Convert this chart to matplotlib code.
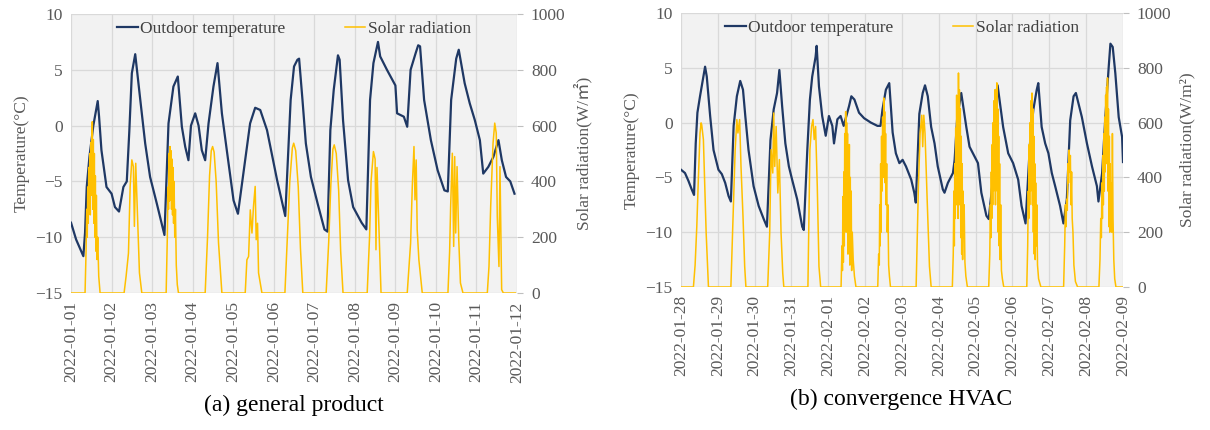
import matplotlib
matplotlib.use("Agg")
import matplotlib.pyplot as plt

plt.rcParams["font.family"] = ["Liberation Serif", "Noto Sans CJK SC", "DejaVu Sans"]

# -----------------------------------------------------------------------------
# data (hours since the first tick)
# -----------------------------------------------------------------------------

# (a) general product
a_temp_hours = [
    0, 3, 7.3, 8.3, 9.3, 10.9, 13.2, 15.8, 16.6, 18,
    21, 24, 26, 28.4, 31, 33, 34.5, 36, 38, 41,
    43.9, 46.8, 50.8, 55.3, 57.7, 60.6, 63.2, 65.6, 67.6, 69.5,
    71, 73.5, 75.5, 77.4, 79.4, 81.4, 84.3, 86.7, 89.3, 92.2,
    96.2, 98.8, 102, 106, 109, 112, 116, 122, 126.8, 130,
    132, 134, 135, 137, 139, 142, 146, 150, 151.8, 153.5,
    155.5, 158, 159, 161, 164, 167, 172, 174.8, 177, 179,
    181.7, 183, 187, 192, 193, 197, 199, 201, 204, 205.5,
    206.6, 209, 213, 217, 221, 223, 225, 228, 229.5, 233,
    236, 239, 242, 244, 247, 250, 253, 255, 257.5, 260, 262.5,
]
a_temp = [
    -8.7, -10.2, -11.7, -9.6, -5.5, -2.8, 0.0, 2.2, 0.8, -2.2,
    -5.5, -6.1, -7.3, -7.7, -5.5, -5.0, -0.5, 4.7, 6.4, 2.3,
    -1.6, -4.6, -7.0, -9.8, 0.2, 3.5, 4.4, -0.1, -1.9, -3.1,
    0.0, 1.1, 0.0, -2.2, -3.1, 0.2, 3.5, 5.6, 1.1, -2.2,
    -6.7, -7.9, -4.3, 0.2, 1.6, 1.4, -0.4, -4.9, -8.1, 2.3,
    5.3, 5.9, 6.0, 2.3, -1.6, -4.6, -7.0, -9.3, -9.5, -0.4,
    3.2, 6.3, 5.9, 0.5, -4.9, -7.3, -8.7, -9.3, 2.3, 5.6,
    7.5, 6.2, 5.0, 3.6, 1.1, 0.8, -0.1, 5.0, 6.5, 7.2,
    7.1, 2.3, -1.3, -4.0, -5.8, -5.9, 2.3, 6.0, 6.8, 3.8,
    2.0, 0.5, -1.3, -4.3, -3.7, -2.8, -1.3, -3.1, -4.6, -5.0, -6.1,
]
a_solar_hours = [
    0,
    8.3, 8.9, 9.3, 9.6, 9.9, 10.2, 10.5, 10.8, 11.1, 11.4, 11.7, 12, 12.3,
    12.6, 12.9, 13.2, 13.5, 13.8, 14.1, 14.4, 14.7, 15, 15.4, 15.8, 16.4, 17.2,
    31.4, 32.6, 34, 35, 36, 36.9, 37.5, 38.3, 39.3, 40.5, 41.9,
    56.3, 57, 57.4, 57.7, 58, 58.3, 58.6, 58.9, 59.2, 59.5, 59.8, 60.1, 60.4,
    60.7, 61, 61.4, 61.8, 62.3, 62.9, 63.6,
    79.4, 80.8, 82, 83, 83.8, 84.7, 85.9, 87.3, 89.3,
    103.1, 104.1, 105.1, 106.1, 107.1, 108, 109, 109.6, 110.4, 111, 113,
    126.6, 128, 129.5, 131, 131.8, 133, 134.5, 135.8, 137.2,
    151, 152.5, 153.8, 155, 155.8, 157, 158.4, 159.6, 161,
    175.3, 176.7, 177.6, 179, 180, 180.5, 181.1, 181.9, 183.5,
    199, 200, 201, 202, 203, 203.6, 204.3, 204.9, 205.9, 207.9,
    223.1, 224.1, 224.7, 225.7, 226.5, 227.1, 227.7, 228.5, 229.5, 230.5, 232,
    246.4, 247.4, 248.4, 249.8, 250.8, 251.7, 252.3, 253.3, 253.9, 254.9, 255.9,
    263,
]
a_solar = [
    0,
    0, 150, 300, 200, 380, 250, 450, 300, 500, 280, 540, 350, 480,
    614, 300, 550, 250, 500, 200, 420, 150, 350, 120, 200, 60, 0,
    0, 60, 143, 382, 477, 453, 239, 465, 286, 72, 0,
    0, 200, 380, 300, 500, 330, 525, 350, 510, 300, 480, 280, 450,
    250, 400, 200, 300, 100, 30, 0,
    0, 200, 420, 510, 525, 505, 400, 180, 0,
    0, 119, 131, 298, 215, 310, 382, 191, 250, 72, 0,
    0, 190, 400, 520, 537, 510, 380, 160, 0,
    0, 180, 390, 515, 531, 500, 370, 150, 0,
    0, 200, 400, 507, 480, 155, 450, 300, 0,
    0, 90, 179, 382, 525, 334, 477, 227, 119, 0,
    0, 150, 310, 501, 167, 489, 215, 453, 191, 36, 0,
    0, 95, 310, 537, 609, 573, 274, 95, 453, 12, 0,
    0,
]
a_ticks = ["2022-01-%02d" % d for d in range(1, 13)]

# (b) convergence HVAC
b_temp_hours = [
    0, 2.6, 4.8, 7, 8.5, 9.6, 10.7, 12.4, 14.6, 15.7,
    16.8, 19, 21.2, 24.4, 26.6, 28.8, 31, 32.5, 34.3, 36.4,
    38.6, 40.4, 41.9, 44, 47.3, 50.6, 53.9, 56, 58.3, 60.4,
    62.6, 64.1, 65.9, 68, 70.3, 72.4, 75.7, 79, 80, 82.3,
    84, 85.5, 87.7, 88.4, 89.9, 92, 94.3, 96.4, 98.6, 99.7,
    101.9, 104, 106, 109.5, 111, 113, 116, 119.3, 123.7, 128,
    130, 131.3, 133.5, 135.7, 137.9, 140, 142.3, 144.4, 146.6, 150,
    152, 153, 155.3, 157.5, 159, 160.8, 163, 165.2, 167.3, 170.6,
    171.7, 173.9, 177.2, 178.3, 180, 182.6, 185.9, 188, 190.2, 193.5,
    195.7, 199, 200.5, 203, 204.7, 206.3, 209.9, 213.2, 216.4, 219.7,
    221.9, 224.5, 227.4, 229.6, 231.8, 232.8, 235, 237.3, 239.4, 241.6,
    243.8, 247, 249.2, 251.4, 253.6, 255.8, 257.3, 261.2, 264.5, 267.8,
    271, 272, 274.4, 276.5, 278.7, 279.8, 281.3, 283, 285.2, 287.4, 288,
]
b_temp = [
    -4.3, -4.6, -5.3, -6.1, -6.6, -1.9, 0.9, 2.4, 4.2, 5.1,
    4.2, 0.6, -2.5, -4.3, -4.7, -5.5, -6.7, -7.2, -0.3, 2.4,
    3.8, 3.0, 0.6, -2.5, -5.8, -7.6, -8.8, -9.5, -1.6, 1.2,
    2.7, 4.8, 1.5, -1.9, -4.0, -5.2, -7.0, -9.5, -9.8, -2.5,
    2.1, 4.2, 6.0, 7.0, 3.3, 0.6, -1.2, 0.6, -0.3, -1.9,
    0.3, 0.6, -0.3, 1.5, 2.4, 2.1, 0.9, 0.4, 0.0, -0.3,
    -0.3, 1.2, 3.0, 3.6, -0.9, -2.8, -3.7, -3.4, -4.0, -5.2,
    -6.4, -7.3, 0.8, 2.7, 3.4, 2.4, -0.4, -1.9, -4.0, -6.1,
    -6.4, -5.5, -4.6, -3.4, 0.5, 2.7, -0.4, -2.2, -2.8, -3.7,
    -6.4, -8.5, -8.8, -5.5, 2.1, 3.4, -0.4, -2.8, -3.7, -5.2,
    -7.6, -9.2, -1.9, 1.2, 3.0, 3.6, -0.4, -1.9, -2.8, -4.6,
    -5.8, -7.6, -9.2, -7.0, 0.2, 2.4, 2.7, 0.5, -1.9, -4.0,
    -5.8, -7.2, -4.6, 0.5, 5.1, 7.2, 6.9, 4.5, 0.5, -1.3, -3.6,
]
b_solar_hours = [
    0,
    8.1, 9.2, 10.3, 11.3, 12.4, 13.1, 13.5, 14.6, 16.4, 17.9,
    32.5, 34.3, 35.3, 36.4, 37.1, 38.2, 39.1, 40.4, 41.5, 42.3,
    56.5, 57.8, 58.7, 59.8, 60.4, 61.1, 62, 63.1, 64.1, 65.2, 66.3, 67,
    82.7, 84, 85.1, 86, 86.8, 87.7, 88.8, 89.9, 91,
    104.3, 104.9, 105.2, 105.5, 105.8, 106.1, 106.4, 106.7, 107, 107.3,
    107.6, 107.9, 108.2, 108.5, 108.8, 109.1, 109.4, 109.7, 110, 110.3,
    110.6, 110.9, 111.2, 111.6, 112.2, 113, 114,
    128.2, 128.8, 129.2, 129.5, 129.8, 130.1, 130.4, 130.7, 131, 131.4,
    131.8, 132.1, 132.4, 132.7, 133, 133.3, 133.6, 134, 134.4, 134.8,
    135.3, 135.8, 136.5,
    153.2, 154.7, 155.8, 156.9, 157.5, 158.2, 159, 160.4, 161.9, 163,
    176.8, 177.4, 177.8, 178.1, 178.4, 178.7, 179, 179.3, 179.6, 179.9,
    180.2, 180.5, 180.8, 181.1, 181.4, 181.7, 182, 182.3, 182.6, 182.9,
    183.2, 183.5, 183.8, 184.1, 184.5, 185, 185.6, 186.6,
    200.5, 201.2, 201.6, 201.9, 202.2, 202.5, 202.8, 203.1, 203.4, 203.7,
    204, 204.3, 204.6, 204.9, 205.2, 205.5, 205.8, 206.1, 206.4, 206.7,
    207, 207.3, 207.6, 207.9, 208.3, 208.8, 209.4, 210.3,
    225.3, 225.9, 226.3, 226.6, 226.9, 227.2, 227.5, 227.8, 228.1, 228.4,
    228.7, 229, 229.3, 229.6, 229.9, 230.2, 230.5, 230.8, 231.1, 231.4,
    231.8, 232.3, 233, 234.5,
    249.3, 250, 250.5, 250.9, 251.3, 251.7, 252.1, 252.5, 252.9, 253.3,
    253.7, 254.1, 254.5, 254.9, 255.4, 256, 257, 258.4,
    272.3, 273, 273.5, 273.9, 274.3, 274.6, 274.9, 275.2, 275.5, 275.8,
    276.1, 276.4, 276.7, 277, 277.3, 277.6, 277.9, 278.2, 278.5, 278.8,
    279.1, 279.4, 279.7, 280, 280.3, 280.7, 281.1, 281.5, 282, 282.6, 283.4,
    288,
]
b_solar = [
    0,
    0, 80, 221, 392, 562, 599, 592, 538, 197, 0,
    0, 319, 501, 611, 562, 611, 440, 258, 75, 0,
    0, 197, 501, 416, 635, 440, 586, 343, 465, 197, 51, 0,
    0, 501, 586, 611, 538, 586, 367, 75, 0,
    0, 150, 60, 330, 90, 420, 150, 560, 250, 640,
    200, 600, 350, 560, 120, 480, 300, 520, 80, 400,
    150, 350, 60, 200, 100, 40, 0,
    0, 120, 80, 300, 150, 450, 200, 550, 350, 620,
    400, 690, 450, 640, 380, 560, 300, 450, 200, 300,
    80, 40, 0,
    0, 367, 561, 627, 512, 627, 561, 318, 75, 0,
    0, 120, 350, 150, 450, 250, 580, 300, 700, 400,
    650, 250, 781, 450, 720, 300, 650, 180, 550, 120,
    450, 100, 350, 180, 300, 90, 40, 0,
    0, 120, 300, 180, 420, 250, 520, 300, 600, 350,
    680, 400, 720, 300, 700, 450, 745, 350, 650, 200,
    550, 150, 450, 100, 300, 60, 30, 0,
    0, 150, 350, 250, 520, 300, 600, 350, 680, 400,
    708, 300, 650, 200, 550, 120, 450, 100, 380, 150,
    300, 80, 30, 0,
    0, 150, 300, 220, 320, 280, 450, 380, 500, 420,
    480, 300, 420, 250, 200, 80, 20, 0,
    0, 100, 250, 180, 380, 250, 480, 300, 560, 350,
    620, 420, 700, 450, 730, 500, 763, 350, 650, 220,
    550, 200, 450, 210, 380, 200, 560, 250, 100, 30, 0,
    0,
]
b_ticks = ["2022-01-%02d" % d for d in range(28, 32)] + \
          ["2022-02-%02d" % d for d in range(1, 10)]

TEMP_COLOR = "#1F3864"
SOLAR_COLOR = "#FFC000"
BG = "#F2F2F2"
GRID = "#D9D9D9"
TXT = "#595959"


def draw_panel(fig, rect, t_h, t_v, s_h, s_v, ticks, solar_label, title, title_xy):
    ax = fig.add_axes(rect)
    ax.set_facecolor(BG)
    ax.plot(t_h, t_v, color=TEMP_COLOR, lw=1.6, label="Outdoor temperature")
    ax.set_ylim(-15, 10)
    ax.set_yticks(range(-15, 11, 5))
    ax.set_xlim(0, 24 * (len(ticks) - 1))
    ax.set_xticks([24 * i for i in range(len(ticks))])
    ax.set_xticklabels(ticks, rotation=90)
    ax.grid(True, color=GRID, lw=0.9)
    ax.set_axisbelow(True)
    ax.tick_params(axis="both", length=0, labelsize=12.5, colors=TXT, pad=6)
    ax.set_ylabel("Temperature(°C)", fontsize=12.5, color=TXT, labelpad=4)

    ax2 = ax.twinx()
    ax2.plot(s_h, s_v, color=SOLAR_COLOR, lw=1.1, label="Solar radiation")
    ax2.set_ylim(0, 1000)
    ax2.set_yticks(range(0, 1001, 200))
    ax2.tick_params(axis="y", length=4, labelsize=12.5, colors=TXT, pad=6)
    ax2.tick_params(axis="y", color="#BFBFBF")
    ax2.set_ylabel(solar_label, fontsize=12.5, color=TXT, labelpad=6)

    for a in (ax, ax2):
        for s in a.spines.values():
            s.set_visible(False)

    h1, l1 = ax.get_legend_handles_labels()
    h2, l2 = ax2.get_legend_handles_labels()
    leg = ax2.legend(h1 + h2, l1 + l2, loc="upper center", ncol=2, frameon=False,
                     fontsize=12.5, handlelength=1.2, handletextpad=0.15,
                     columnspacing=3.4, borderaxespad=0.0)
    for t in leg.get_texts():
        t.set_color("#404040")

    fig.text(title_xy[0], title_xy[1], title, ha="center", va="center",
             fontsize=17, color="black")


def main() -> None:
    fig = plt.figure(figsize=(12.1, 4.3), dpi=100)
    draw_panel(fig, [0.0587, 0.3186, 0.3686, 0.6488],
               a_temp_hours, a_temp, a_solar_hours, a_solar, a_ticks,
               "Solar radiation(W/㎡)", "(a) general product", (0.243, 0.058))
    draw_panel(fig, [0.5628, 0.3326, 0.3653, 0.6372],
               b_temp_hours, b_temp, b_solar_hours, b_solar, b_ticks,
               "Solar radiation(W/m²)", "(b) convergence HVAC", (0.745, 0.07))
    fig.savefig("out.png", dpi=100, facecolor="white")


if __name__ == "__main__":
    main()
